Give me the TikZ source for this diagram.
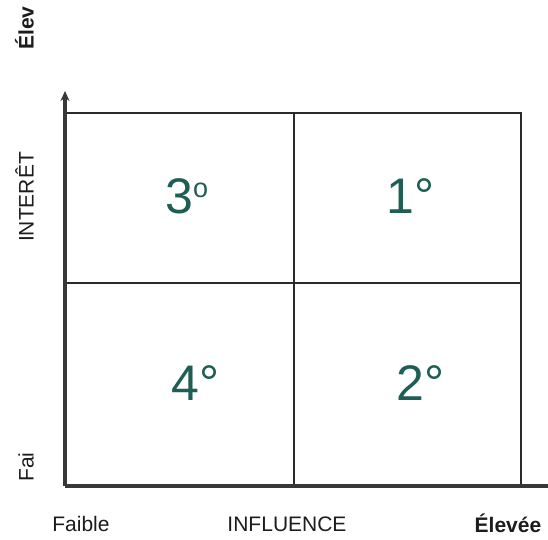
\documentclass[tikz,border=0pt]{standalone}
\usepackage{fontspec}
\setmainfont{Liberation Sans}
\usetikzlibrary{arrows.meta}
\definecolor{inkdark}{HTML}{1C1C1C}
\definecolor{gridline}{HTML}{2A2A2A}
\definecolor{axisline}{HTML}{383838}
\definecolor{rankteal}{HTML}{1F5E54}
\begin{document}
\begin{tikzpicture}[x=1pt,y=-1pt,
  axis/.style={draw=axisline,line width=3.4pt},
  cell/.style={draw=gridline,line width=2pt},
  lbl/.style={font=\fontsize{21}{21}\selectfont,text=inkdark,inner sep=0pt},
  lblbold/.style={lbl,font=\fontsize{21}{21}\selectfont\bfseries},
  rank/.style={font=\fontsize{50}{50}\selectfont,text=rankteal,inner sep=0pt,anchor=base west}]
\useasboundingbox (0,0) rectangle (548,539);
\fill[white] (0,0) rectangle (548,539);

% axis corner points
\coordinate (origin) at (65,486);
\coordinate (ytip) at (65,91);
\coordinate (xend) at (548,486);

% grid corners
\coordinate (tl) at (65,113);
\coordinate (tm) at (294,113);
\coordinate (tr) at (521,113);
\coordinate (ml) at (65,283);
\coordinate (mr) at (521,283);
\coordinate (bm) at (294,486);
\coordinate (br) at (521,486);

% quadrant lines
\draw[cell] (tl) -- (tr) -- (br);
\draw[cell] (tm) -- (bm);
\draw[cell] (ml) -- (mr);

% axes
\draw[axis] (xend) -- (origin);
\draw[axis,-{Stealth[length=10pt,width=9pt]}] (origin) -- (ytip);

% quadrant ranks
\node[rank] (q3) at (165,213) {3\raisebox{16pt}{\fontsize{27}{27}\selectfont o}};
\node[rank] (q1) at (386,213) {1°};
\node[rank] (q4) at (171,400) {4°};
\node[rank] (q2) at (396.5,400) {2°};

% axis labels
\node[lblbold,rotate=90,anchor=base] (yhigh) at (33.5,28) {Élev};
\node[lbl,rotate=90,anchor=base] (ytitle) at (33.5,197) {INTERÊT};
\node[lbl,rotate=90,anchor=base] (ylow) at (33.5,467) {Fai};
\node[lbl,anchor=base] (xlow) at (81,531) {Faible};
\node[lbl,anchor=base] (xtitle) at (287,531) {INFLUENCE};
\node[lblbold,anchor=base] (xhigh) at (508,532) {Élevée};
\end{tikzpicture}
\end{document}
